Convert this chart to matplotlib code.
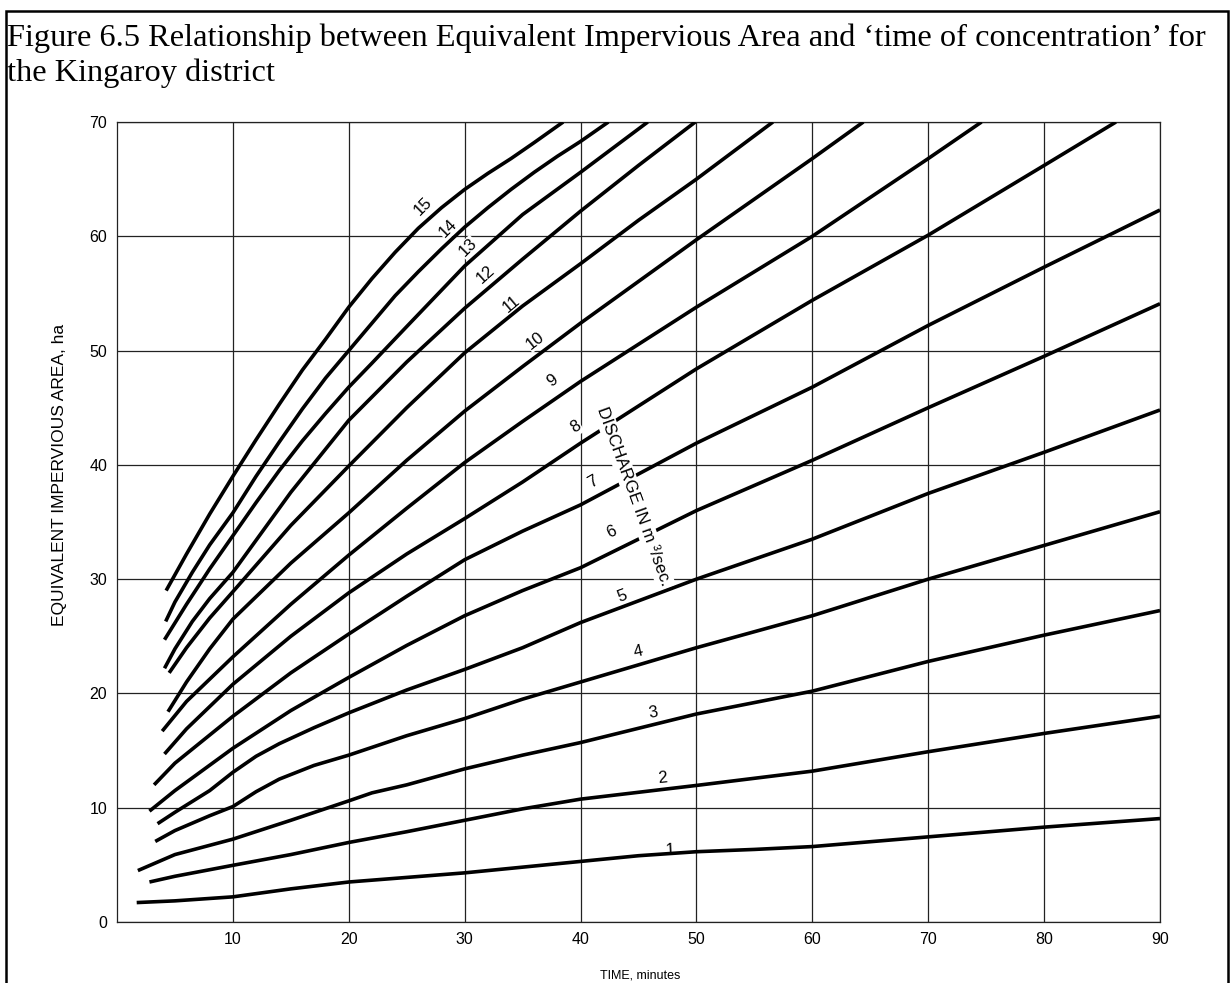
import matplotlib
matplotlib.use("Agg")
import matplotlib.pyplot as plt
from matplotlib.patches import Rectangle

plt.rcParams['font.family'] = ['Liberation Sans', 'DejaVu Sans']

# Discharge curves (m3/sec): time of concentration (min) vs equivalent impervious area (ha)
q1_t = [1.7, 5, 10, 15, 20, 25, 30, 35, 40, 45, 50, 55, 60, 70, 80, 90]
q1_a = [1.7, 1.85, 2.2, 2.9, 3.5, 3.9, 4.3, 4.8, 5.3, 5.8, 6.15, 6.35, 6.6, 7.45, 8.3, 9.05]

q2_t = [2.8, 5, 10, 15, 20, 25, 30, 35, 40, 45, 50, 60, 70, 80, 90]
q2_a = [3.5, 4.0, 4.96, 5.9, 6.96, 7.9, 8.9, 9.9, 10.75, 11.35, 11.95, 13.2, 14.9, 16.5, 18.0]

q3_t = [1.8, 5, 10, 15, 20, 22, 25, 30, 35, 40, 50, 60, 70, 80, 90]
q3_a = [4.5, 5.9, 7.25, 8.9, 10.6, 11.3, 12.0, 13.4, 14.6, 15.7, 18.2, 20.2, 22.8, 25.1, 27.25]

q4_t = [3.3, 5, 8, 10, 12, 14, 17, 20, 25, 30, 35, 40, 50, 60, 70, 80, 90]
q4_a = [7.05, 8.0, 9.3, 10.1, 11.4, 12.5, 13.7, 14.6, 16.3, 17.8, 19.5, 21.0, 24.0, 26.8, 30.0, 32.95, 35.9]

q5_t = [3.5, 5, 8, 10, 12, 14, 17, 20, 25, 30, 35, 40, 50, 60, 70, 80, 90]
q5_a = [8.6, 9.6, 11.5, 13.1, 14.5, 15.6, 17.0, 18.3, 20.3, 22.1, 24.0, 26.2, 30.0, 33.5, 37.5, 41.1, 44.8]

q6_t = [2.8, 5, 10, 15, 20, 25, 30, 35, 40, 50, 60, 70, 80, 90]
q6_a = [9.7, 11.5, 15.2, 18.5, 21.4, 24.2, 26.8, 29.0, 31.0, 36.0, 40.4, 45.0, 49.5, 54.1]

q7_t = [3.2, 5, 10, 15, 20, 25, 30, 35, 40, 50, 60, 70, 80, 90]
q7_a = [12.0, 13.9, 18.0, 21.8, 25.2, 28.5, 31.7, 34.2, 36.5, 41.9, 46.8, 52.2, 57.3, 62.3]

q8_t = [4.1, 6, 10, 15, 20, 25, 30, 35, 40, 50, 60, 70, 80, 86.2]
q8_a = [14.7, 16.9, 20.8, 25.0, 28.8, 32.2, 35.3, 38.5, 41.9, 48.4, 54.4, 60.1, 66.2, 70]

q9_t = [3.9, 6, 10, 15, 20, 25, 30, 35, 40, 50, 60, 70, 74.6]
q9_a = [16.7, 19.3, 23.2, 27.8, 32.1, 36.2, 40.2, 43.8, 47.3, 53.8, 60.0, 66.8, 70]

q10_t = [4.4, 6, 8, 10, 15, 20, 25, 30, 35, 40, 50, 60, 64.4]
q10_a = [18.4, 21.0, 23.9, 26.5, 31.4, 35.8, 40.4, 44.7, 48.6, 52.4, 59.7, 66.8, 70]

q11_t = [4.5, 6, 8, 10, 15, 20, 25, 30, 35, 40, 45, 50, 56.6]
q11_a = [21.8, 24.0, 26.6, 28.9, 34.7, 39.9, 45.0, 49.8, 53.9, 57.6, 61.4, 65.0, 70]

q12_t = [4.1, 5, 6.5, 8, 10, 12, 15, 20, 25, 30, 35, 40, 45, 49.9]
q12_a = [22.2, 23.9, 26.3, 28.3, 30.6, 33.4, 37.6, 43.9, 49.0, 53.7, 58.0, 62.2, 66.2, 70]

q13_t = [4.1, 6, 8, 10, 12, 14, 16, 18, 20, 22, 25, 30, 35, 40, 45.8]
q13_a = [24.7, 27.8, 30.9, 33.8, 36.7, 39.5, 42.1, 44.5, 46.8, 48.9, 52.1, 57.4, 61.9, 65.6, 70]

q14_t = [4.2, 5, 6.5, 8, 10, 12, 14, 16, 18, 20, 22, 24, 26, 28, 30, 32, 34, 36, 38, 40, 42.4]
q14_a = [26.3, 28.0, 30.6, 33.0, 35.8, 39.0, 42.0, 44.9, 47.6, 50.0, 52.4, 54.8, 56.9, 58.9,
         60.8, 62.5, 64.1, 65.6, 67.0, 68.3, 70]

q15_t = [4.24, 6, 8, 10, 12, 14, 16, 18, 20, 22, 24, 26, 28, 30, 32, 34, 36, 38.5]
q15_a = [29.0, 32.2, 35.7, 39.0, 42.2, 45.3, 48.3, 51.0, 53.8, 56.3, 58.6, 60.7, 62.5,
         64.1, 65.5, 66.8, 68.2, 70]

curve_t = [q1_t, q2_t, q3_t, q4_t, q5_t, q6_t, q7_t, q8_t,
           q9_t, q10_t, q11_t, q12_t, q13_t, q14_t, q15_t]
curve_a = [q1_a, q2_a, q3_a, q4_a, q5_a, q6_a, q7_a, q8_a,
           q9_a, q10_a, q11_a, q12_a, q13_a, q14_a, q15_a]

# where each discharge number sits, and its slant
label_text = ['1', '2', '3', '4', '5', '6', '7', '8', '9', '10', '11', '12', '13', '14', '15']
label_t = [47.7, 47.1, 46.3, 45.0, 43.6, 42.7, 41.1, 39.6, 37.6, 36.1, 34.0, 31.8, 30.3, 28.6, 26.4]
label_a = [6.3, 12.6, 18.3, 23.7, 28.5, 34.1, 38.5, 43.3, 47.4, 50.9, 54.1, 56.7, 59.0, 60.7, 62.6]
label_rot = [3, 5, 10, 12, 20, 25, 30, 33, 36, 38, 40, 42, 45, 45, 45]

x_ticks = [10, 20, 30, 40, 50, 60, 70, 80, 90]
y_ticks = [0, 10, 20, 30, 40, 50, 60, 70]

W, H = 1231, 983
fig = plt.figure(figsize=(W / 100, H / 100), dpi=100)
ax = fig.add_axes([117 / W, 1 - 922 / H, (1160 - 117) / W, (922 - 122) / H])

ax.set_xlim(0, 90)
ax.set_ylim(0, 70)
ax.set_xticks(x_ticks)
ax.set_yticks(y_ticks)
ax.tick_params(length=0, labelsize=11.5)
ax.tick_params(axis='x', pad=7)
ax.tick_params(axis='y', pad=7)
ax.grid(True, color='#222222', lw=0.9, zorder=0)
ax.set_axisbelow(True)
for s in ax.spines.values():
    s.set_linewidth(0.9)
    s.set_color('#222222')

for t, a in zip(curve_t, curve_a):
    ax.plot(t, a, color='black', lw=2.6, solid_capstyle='butt',
            solid_joinstyle='round', zorder=3)

for txt, t, a, r in zip(label_text, label_t, label_a, label_rot):
    ax.text(t, a, txt, rotation=r, ha='center', va='center', fontsize=12,
            rotation_mode='anchor', zorder=2,
            bbox=dict(fc='white', ec='none', pad=0.6))

ax.text(44.6, 37.2, 'DISCHARGE IN m \u00b3/sec.', rotation=-70, rotation_mode='anchor',
        ha='center', va='center', fontsize=12.3, zorder=4,
        bbox=dict(fc='white', ec='none', pad=1.5))

fig.text(60 / W, 1 - 475 / H, 'EQUIVALENT IMPERVIOUS AREA, ha', rotation=90,
         ha='center', va='center', fontsize=12.5)
fig.text(640 / W, 1 - 969 / H, 'TIME, minutes', ha='center', va='top', fontsize=9)

# caption above the chart
fig.text(7 / W, 1 - 46 / H,
         'Figure 6.5 Relationship between Equivalent Impervious Area and \u2018time of concentration\u2019 for',
         family='Liberation Serif', fontsize=23.3, va='baseline')
fig.text(7 / W, 1 - 81 / H, 'the Kingaroy district',
         family='Liberation Serif', fontsize=23.3, va='baseline')

# frame round the figure, open at the bottom edge of the page
fig.add_artist(Rectangle((6 / W, -0.1), (1228 - 6) / W, 1.1 - 11 / H,
                         transform=fig.transFigure, fill=False, lw=1.8, ec='black'))

fig.savefig('out.png', dpi=100)
